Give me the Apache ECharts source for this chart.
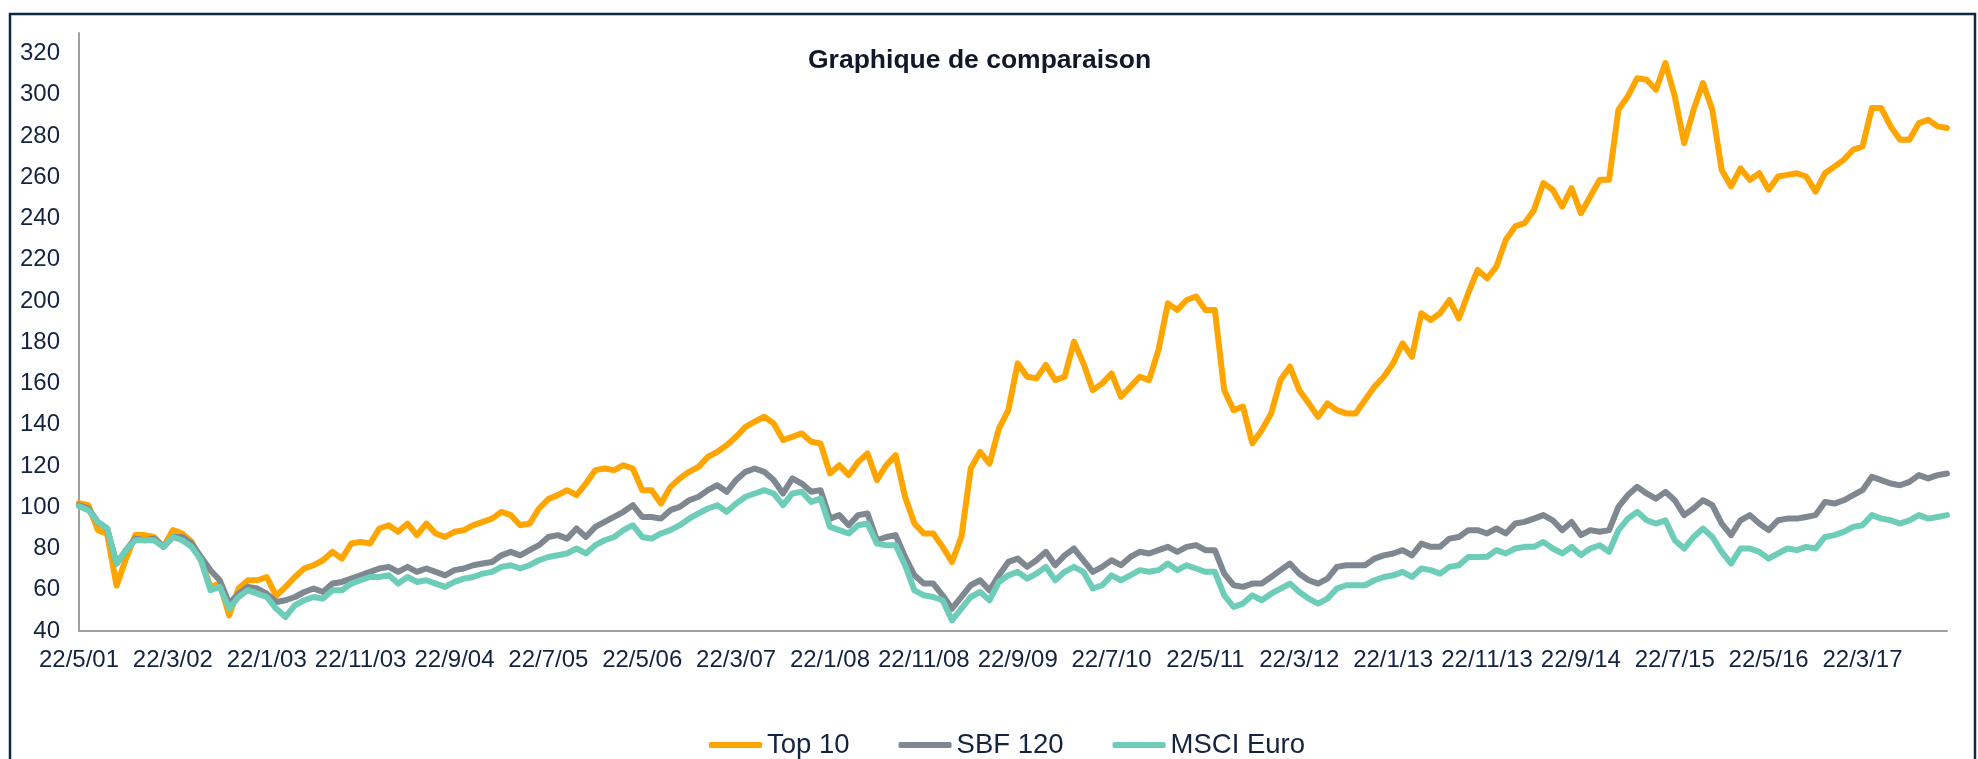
<!DOCTYPE html>
<html>
<head>
<meta charset="utf-8">
<script src="https://cdn.jsdelivr.net/npm/echarts@6/dist/echarts.min.js"></script>
<style>
html,body{margin:0;padding:0;background:#fff;overflow:hidden;}
#chart{width:1978px;height:759px;}
</style>
</head>
<body>
<div id="chart"></div>
<script>
// Monthly categories: 22/5/01 ... 22/12/17
var categories = [];
(function(){
  var y = 2001, m = 5;
  for (var k = 0; k < 200; k++) {
    categories.push('22/' + m + '/' + String(y % 100).padStart(2, '0'));
    m++; if (m > 12) { m = 1; y++; }
  }
})();

var seriesNames = ['Top 10', 'SBF 120', 'MSCI Euro'];

var top10 = [
  102, 101, 89, 87, 62, 75, 86.5, 86.5, 85.6, 80.8,
  88.9, 87.3, 83.2, 74.3, 61.4, 63, 47.6, 60.6, 64.6, 64.6,
  66.2, 57, 61.4, 66.2, 70.3, 71.9, 74.3, 78.4, 75.1, 82.4,
  83.2, 82.4, 89.7, 91.3, 88.1, 92.1, 86.5, 92.1, 87.3, 85.6,
  88.1, 88.9, 91.3, 92.9, 94.5, 97.8, 96.2, 91.3, 92.1, 99.4,
  104, 105.9, 108.3, 105.9, 111.5, 118, 118.8, 118, 120.4, 118.8,
  108.3, 108.3, 101.8, 109.9, 114, 117.2, 119.6, 124.5, 126.9, 130.1,
  134.2, 139, 141.5, 143.9, 140.7, 132.6, 134.2, 135.8, 131.8, 130.9,
  116.4, 120.4, 115.6, 122, 126.1, 113.2, 120.4, 125.3, 105.1, 92.1,
  87.3, 87.3, 80.8, 73.5, 85.6, 118.8, 126.9, 121.2, 138.2, 147.1,
  169.8, 163.3, 162.5, 169, 161.7, 163.3, 180.3, 169.8, 156.8, 160.1,
  164.9, 153.6, 158.4, 163.3, 161.7, 176.3, 198.9, 195.7, 200.5, 202.2,
  195.7, 195.7, 156.8, 147.1, 148.8, 131, 137.4, 145.5, 161.7, 168.2,
  156.8, 150.4, 143.9, 150.4, 147.1, 145.5, 145.5, 152, 158.4, 163.3,
  169.8, 179.5, 173, 194.1, 190.8, 194.1, 200.5, 191.6, 203.8, 215.1,
  211, 216.7, 229.7, 236.2, 237.8, 244.2, 257.2, 254, 245.8, 254.8,
  242.6, 250.7, 258.8, 258.8, 292.8, 299.3, 308.1, 307.3, 302.5, 315.4,
  299.3, 276.6, 292.8, 305.7, 292.8, 263.6, 255.6, 264.4, 258.8, 262,
  254, 260.4, 261.2, 262, 260.4, 253.1, 262, 265.2, 268.5, 273.4,
  275, 293.6, 293.6, 284.7, 278.2, 278.2, 286.3, 287.9, 284.7, 283.9
];

var sbf120 = [
  101, 99.4, 92.9, 89.7, 72.7, 79.2, 84.8, 84, 84.8, 80.8,
  85.6, 85.6, 82.4, 75.9, 69.5, 64.6, 53.3, 58.1, 61.4, 60.6,
  58.1, 54.1, 54.9, 56.5, 58.9, 60.6, 58.9, 63, 63.8, 65.4,
  67, 68.7, 70.3, 71.1, 68.7, 71.1, 68.7, 70.3, 68.7, 67,
  69.5, 70.3, 71.9, 72.7, 73.5, 76.7, 78.4, 76.7, 79.2, 81.6,
  85.6, 86.5, 84.8, 89.7, 85.6, 90.5, 92.9, 95.3, 97.8, 101,
  95.3, 95.3, 94.5, 98.6, 100.2, 103.4, 105.1, 108.3, 110.7, 107.5,
  113.2, 117.2, 118.8, 117.2, 113.2, 106.7, 114, 111.5, 107.5, 108.3,
  94.5, 96.2, 91.3, 96.2, 97, 84, 85.6, 86.5, 75.9, 67,
  63, 63, 57.3, 50.8, 56.5, 62.2, 64.6, 59.7, 67, 73.5,
  75.1, 71.1, 74.3, 78.4, 71.9, 76.7, 80, 74.3, 68.7, 71.1,
  74.3, 71.9, 75.9, 78.4, 77.6, 79.2, 80.8, 78.4, 80.8, 81.6,
  79.2, 79.2, 67.8, 62.2, 61.4, 63, 63, 66.2, 69.5, 72.7,
  67.8, 64.6, 63, 65.4, 71.1, 71.9, 71.9, 71.9, 75.1, 76.7,
  77.6, 79.2, 76.7, 82.4, 80.8, 80.8, 84.8, 85.6, 88.9, 88.9,
  87.3, 89.7, 87.3, 92.1, 92.9, 94.5, 96.2, 93.7, 88.9, 92.9,
  86.5, 88.9, 88.1, 88.9, 100.2, 105.9, 109.9, 106.7, 104.2, 107.5,
  103.4, 96.2, 99.4, 103.4, 101, 92.1, 86.5, 93.7, 96.2, 92.1,
  88.9, 93.7, 94.5, 94.5, 95.3, 96.2, 102.6, 101.8, 103.4, 105.9,
  108.3, 114.8, 113.2, 111.5, 110.7, 112.3, 115.6, 114, 115.6, 116.4
];

var msciEuro = [
  100.5, 98.6, 92.9, 89.7, 72.7, 79.2, 84, 84, 84, 80.8,
  85.6, 84, 80.8, 74.3, 59.8, 61.4, 50.9, 56.5, 59.8, 58.1,
  56.5, 50.9, 46.8, 52.5, 54.9, 56.5, 55.7, 59.8, 59.8, 63,
  64.6, 66.2, 66.2, 67, 63, 66.2, 63.8, 64.6, 63, 61.4,
  63.8, 65.4, 66.2, 67.8, 68.7, 71.1, 71.9, 70.3, 71.9, 74.3,
  75.9, 76.7, 77.6, 80, 77.6, 81.6, 84, 85.6, 88.9, 91.3,
  85.6, 84.8, 87.3, 88.9, 91.3, 94.5, 97, 99.4, 101, 97.8,
  101.8, 105.1, 106.7, 108.3, 106.7, 101, 106.7, 107.5, 102.6, 104.2,
  90.5, 88.9, 87.3, 91.3, 92.1, 82.4, 81.6, 81.6, 71.9, 59.7,
  57.3, 56.5, 54.9, 45.2, 50.8, 56.5, 58.9, 54.9, 63.8, 67,
  68.7, 65.4, 67.8, 71.1, 64.6, 68.7, 71.1, 68.7, 60.6, 62.2,
  67, 64.6, 67, 69.5, 68.7, 69.5, 72.7, 69.5, 71.9, 70.3,
  68.7, 68.7, 57.3, 51.7, 53.3, 57.3, 54.9, 58.1, 60.6, 63,
  58.9, 55.7, 53.3, 55.7, 60.6, 62.2, 62.2, 62.2, 64.6, 66.2,
  67, 68.7, 66.2, 70.3, 69.5, 67.8, 71.1, 71.9, 75.9, 75.9,
  76, 79.2, 77.6, 80, 80.8, 80.8, 83.2, 80, 77.6, 80.8,
  76.8, 80, 81.6, 78.4, 88.9, 94.5, 97.8, 93.7, 92.1, 93.7,
  84, 80, 85.6, 89.7, 85.6, 78.4, 72.7, 80, 80, 78.4,
  75.1, 77.6, 80, 79.2, 80.8, 80, 85.6, 86.5, 88.1, 90.5,
  91.3, 96.2, 94.5, 93.7, 92.1, 93.7, 96.2, 94.5, 95.3, 96.2
];

var textColor = '#14233f';
var colors = ['#FFA500', '#7F8890', '#6DCDB8'];
var font = 'Liberation Sans, Arial, sans-serif';

var chart = echarts.init(document.getElementById('chart'), null, {renderer: 'canvas'});

function lineSeries(name, data, color) {
  return {
    name: name,
    type: 'line',
    data: data,
    symbol: 'none',
    smooth: false,
    lineStyle: {color: color, width: 6, cap: 'round', join: 'round'},
    itemStyle: {color: color}
  };
}

chart.setOption({
  animation: false,
  backgroundColor: '#fff',
  title: {
    text: 'Graphique de comparaison',
    left: 808,
    top: 47,
    padding: 0,
    textStyle: {fontFamily: font, fontSize: 26.5, fontWeight: 'bold', color: '#111827'}
  },
  legend: {
    data: seriesNames,
    left: 709,
    top: 731,
    padding: 0,
    icon: 'roundRect',
    itemWidth: 53,
    itemHeight: 6,
    itemGap: 49,
    textStyle: {fontFamily: font, fontSize: 27.5, color: textColor}
  },
  grid: {left: 79, right: 31, top: 33, bottom: 128, containLabel: false},
  xAxis: {
    type: 'category',
    data: categories,
    boundaryGap: false,
    axisLine: {lineStyle: {color: '#A0A0A0', width: 2}},
    axisTick: {show: false},
    axisLabel: {interval: 9, margin: 17, fontFamily: font, fontSize: 24, color: textColor},
    splitLine: {show: false}
  },
  yAxis: {
    type: 'value',
    min: 40,
    max: 330,
    interval: 20,
    axisLine: {show: true, lineStyle: {color: '#A0A0A0', width: 2}},
    axisTick: {show: false},
    axisLabel: {showMaxLabel: false, margin: 19, fontFamily: font, fontSize: 24, color: textColor},
    splitLine: {show: false}
  },
  graphic: [{
    type: 'rect',
    silent: true,
    shape: {x: 10, y: 14, width: 1965, height: 800},
    style: {fill: 'none', stroke: '#0f2742', lineWidth: 2.5}
  }],
  series: [
    lineSeries(seriesNames[0], top10, colors[0]),
    lineSeries(seriesNames[1], sbf120, colors[1]),
    lineSeries(seriesNames[2], msciEuro, colors[2])
  ]
});
</script>
</body>
</html>
